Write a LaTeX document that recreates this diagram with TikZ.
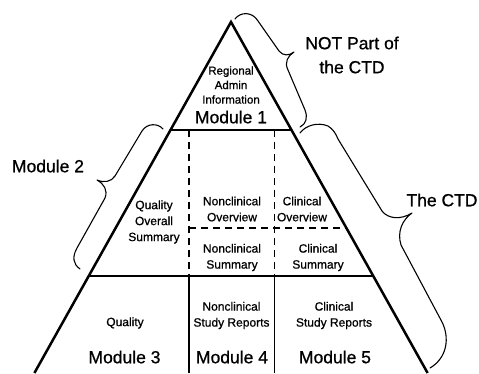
\documentclass[tikz,border=0pt]{standalone}
\usepackage{fontspec}
\setmainfont[FakeBold=0.8]{Liberation Sans}
\begin{document}
\begin{tikzpicture}[x=1pt,y=-1pt,
  big/.style={font=\fontsize{17.5}{20}\selectfont, inner sep=0},
  bigc/.style={font=\fontsize{17.5}{24}\selectfont, inner sep=0, align=center},
  small/.style={font=\fontsize{12}{16}\selectfont, align=center, inner sep=0},
  tiny/.style={font=\fontsize{11.5}{14.5}\selectfont, align=center, inner sep=0},
  edge/.style={line width=2.5pt, line join=miter},
  rule/.style={line width=1.6pt},
  dashrule/.style={line width=1.7pt, dash pattern=on 7pt off 5pt},
  bracepath/.style={line width=1.1pt, line join=round, line cap=round}]
\useasboundingbox (0,0) rectangle (479,374);
% triangle
\coordinate (A) at (231,22);
\coordinate (BL) at (34.4,373);
\coordinate (BR) at (427.6,373);
\coordinate (L1) at (170.5,130);
\coordinate (R1) at (291.5,130);
\coordinate (L3) at (88.8,276);
\coordinate (R3) at (373.2,276);
\coordinate (DL) at (189,228);
\coordinate (DR) at (346.4,228);
\coordinate (V1t) at (189,130);
\coordinate (V2t) at (274.5,130);
\coordinate (V1m) at (189,276);
\coordinate (V2m) at (274.5,276);
\coordinate (V1b) at (189,373);
\coordinate (V2b) at (274.5,373);
\draw[edge] (BL) -- (A) -- (BR);
\draw[rule] (L1) -- (R1);
\draw[rule] (L3) -- (R3);
\draw[dashrule] (V1t) -- (V1m);
\draw[dashrule] (V2t) -- (V2m);
\draw[dashrule] (DL) -- (DR);
\draw[rule] (V1m) -- (V1b);
\draw[rule] (V2m) -- (V2b);
% texts
\node[tiny] (regional) at (231,85) {Regional\\Admin\\Information};
\node[big] (m1) at (231,117) {Module 1};
\node[small] (qos) at (154,222) {Quality\\Overall\\Summary};
\node[small] (nco) at (232,209) {Nonclinical\\Overview};
\node[small] (co) at (302,209) {Clinical\\Overview};
\node[small] (ncs) at (232,257.5) {Nonclinical\\Summary};
\node[small] (cs) at (318,257.5) {Clinical\\Summary};
\node[small] (q) at (125,323) {Quality};
\node[small] (ncsr) at (231.5,315.5) {Nonclinical\\Study Reports};
\node[small] (csr) at (334,315.5) {Clinical\\Study Reports};
\node[big] (m3) at (124.5,357) {Module 3};
\node[big] (m4) at (232,357) {Module 4};
\node[big] (m5) at (335,357) {Module 5};
\node[big] (m2) at (48,166) {Module 2};
\node[bigc] (notpart) at (352,55) {NOT Part of\\the CTD};
\node[big] (ctd) at (442,200) {The CTD};
% braces
\coordinate (Aa) at (235,19);
\coordinate (Atip) at (294,52);
\coordinate (Ab) at (300,127);
\draw[bracepath] (Aa) .. controls (240,12) and (252,11) .. (258,21) -- (279,51)
  .. controls (283,56) and (289,56) .. (Atip)
  .. controls (288,56) and (284,62) .. (288,70) -- (305,110)
  .. controls (308,118) and (306,124) .. (Ab);
\coordinate (Ba) at (300,133);
\coordinate (Btip) at (412,213);
\coordinate (Bb) at (430,368);
\draw[bracepath] (Ba) .. controls (306,125) and (318,122) .. (328,126)
  .. controls (333,129) and (336,134) .. (338,139) -- (382,211)
  .. controls (388,219) and (401,220) .. (Btip)
  .. controls (402,220) and (397,232) .. (401,245) -- (442,322)
  .. controls (450,338) and (447,358) .. (Bb);
\coordinate (Ca) at (163,129);
\coordinate (Ctip) at (97,180);
\coordinate (Cb) at (80,269);
\draw[bracepath] (Ca) .. controls (158,123) and (147,123) .. (142,131) -- (115,176)
  .. controls (111,182) and (104,183) .. (Ctip)
  .. controls (104,184) and (108,190) .. (105,198) -- (77,248)
  .. controls (72,257) and (73,264) .. (Cb);
\end{tikzpicture}
\end{document}
